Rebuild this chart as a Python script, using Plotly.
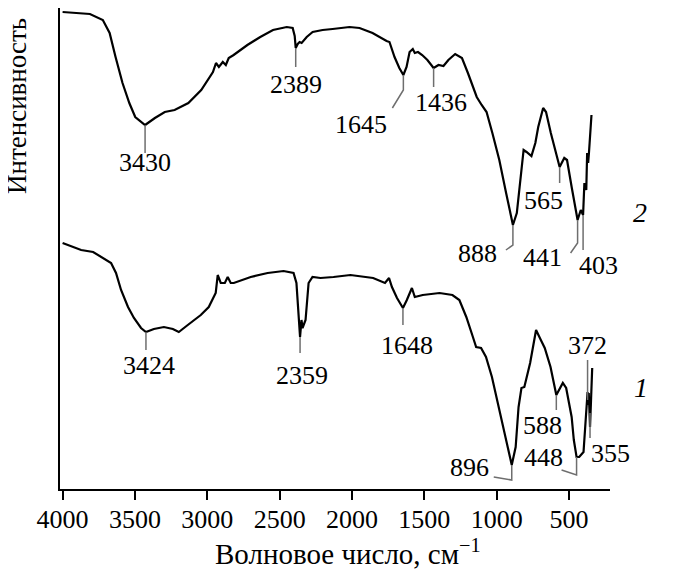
import plotly.graph_objects as go
import numpy as np

# ---------------- data ----------------
wn2 = [4000, 3811, 3722, 3675, 3634, 3586, 3539, 3498, 3430, 3362, 3294, 3226, 3131, 3042,
       2961, 2940, 2920, 2893, 2872, 2852, 2818, 2723, 2634, 2546, 2451, 2410, 2396, 2389,
       2375, 2362, 2348, 2313, 2272, 2203, 2134, 2017, 1948, 1858, 1761, 1741, 1706, 1673,
       1645, 1623, 1602, 1580, 1566, 1544, 1515, 1479, 1436, 1402, 1368, 1334, 1287, 1240,
       1199, 1138, 1104, 1070, 1030, 982, 935, 902, 888, 861, 834, 814, 794, 760, 733, 713,
       679, 659, 626, 592, 565, 533, 514, 482, 450, 441, 419, 403, 394, 381, 375, 368, 362, 345]
int2 = [477, 475, 469, 456, 432, 406, 386, 372, 364, 371, 377, 379, 386, 399,
        417, 426, 422, 427, 424, 431, 434, 444, 452, 459, 462, 461, 453, 441,
        445, 447, 446, 452, 457, 459, 460, 462, 461, 456, 448, 447, 432, 421,
        414, 422, 437, 440, 436, 437, 434, 429, 421, 424, 423, 429, 435, 431,
        416, 392, 384, 377, 356, 329, 296, 272, 264, 276, 316, 339, 337, 333, 346, 362,
        381, 377, 356, 336, 322, 331, 329, 302, 276, 269, 279, 274, 306, 299, 336, 326, 337, 374]

wn1 = [4000, 3872, 3789, 3734, 3665, 3631, 3596, 3548, 3507, 3458, 3424, 3369, 3300, 3238,
       3197, 3135, 3045, 2990, 2942, 2928, 2907, 2879, 2859, 2838, 2817, 2700, 2583, 2473,
       2404, 2384, 2370, 2359, 2349, 2342, 2321, 2300, 2273, 2218, 2128, 2011, 1854, 1772,
       1744, 1724, 1689, 1648, 1621, 1600, 1586, 1566, 1511, 1395, 1306, 1258, 1210, 1169,
       1142, 1108, 1074, 1033, 985, 937, 910, 896, 869, 849, 829, 809, 769, 728, 695, 668,
       628, 595, 588, 543, 520, 482, 467, 448, 430, 400, 385, 372, 368, 364, 360, 355, 348, 340]
int1 = [246, 239, 237, 232, 226, 216, 199, 182, 171, 161, 157, 160, 162, 160,
        157, 164, 174, 182, 196, 214, 206, 206, 212, 206, 206, 212, 216, 218,
        216, 206, 176, 152, 169, 161, 169, 206, 212, 211, 212, 214, 211, 206,
        211, 202, 191, 181, 189, 197, 201, 192, 194, 196, 194, 189, 172, 154,
        142, 141, 132, 112, 82, 52, 32, 24, 42, 82, 101, 102, 126, 159, 149, 141,
        122, 97, 94, 106, 101, 72, 49, 32, 32, 37, 72, 97, 84, 96, 82, 62, 89, 121]

peaks2 = [3430, 2389, 1645, 1436, 888, 565, 441, 403]
peaks1 = [3424, 2359, 1648, 896, 588, 448, 372, 355]

xtick_vals = [4000, 3500, 3000, 2500, 2000, 1500, 1000, 500]

# ---------------- layout geometry / label placement (pixels) ----------------
# page body has an 8px margin, so the figure is drawn 8px smaller and offset
OFF = 8
W, H = 697 - OFF, 569 - OFF
ML, MR, MT, MB = 60 - OFF, 87, 0, 80
X_RANGE = [4018, 217]
Y_RANGE = [0, 481]
plot_w = W - ML - MR
plot_h = H - MT - MB
wn_per_px = (X_RANGE[0] - X_RANGE[1]) / plot_w
i_per_px = (Y_RANGE[1] - Y_RANGE[0]) / plot_h


def px_x(page_x):
    return (page_x - 60) / plot_w


def px_y(page_y):
    return (489 - page_y) / plot_h


def wn_to_paper(w):
    return (X_RANGE[0] - w) / (X_RANGE[0] - X_RANGE[1])


def i_to_paper(v):
    return (v - Y_RANGE[0]) / (Y_RANGE[1] - Y_RANGE[0])


# leader path offsets (dx, dy downwards, px) and text-centre offsets
lead2 = [[(0, 0), (0, 28)], [(0, 0), (0, 19)], [(0, 0), (0, 15), (-11, 33)], [(0, 0), (0, 19)],
         [(0, 0), (0, 20), (-7, 25)], [(0, 0), (0, 16)], [(0, 0), (0, 23), (-7, 33)], [(0, 0), (0, 35)]]
text2 = [(0, 38), (0, 37), (-42, 49), (7, 35), (-35, 28), (-16, 33), (-35, 37), (15, 50)]
lead1 = [[(0, 0), (0, 18)], [(0, 0), (0, 16)], [(0, 0), (0, 17)], [(0, 0), (0, 15), (-18, 12)],
         [(0, 0), (0, 15)], [(0, 0), (0, 18), (-15, 13)], [(0, 8), (0, -32)], [(0, -14), (0, 11)]]
text1 = [(3, 33), (1.5, 38), (4, 37), (-42, 2), (-14, 30), (-33, 0), (0, -47), (20, 26)]

FONT = "Liberation Serif, Times New Roman, serif"
FS = 26

fig = go.Figure()
annotations = []


def add_curve(wn, inten, peaks, leads, texts):
    wn_a = np.array(wn, dtype=float)
    in_a = np.array(inten, dtype=float)
    fig.add_trace(go.Scatter(x=wn, y=inten, mode="lines",
                             line=dict(color="black", width=2.2), hoverinfo="skip",
                             showlegend=False, cliponaxis=False))
    order = np.argsort(wn_a)
    lx, ly = [], []
    for p, path, t in zip(peaks, leads, texts):
        py = float(np.interp(p, wn_a[order], in_a[order]))
        for dx, dy in path:
            lx.append(p - dx * wn_per_px)
            ly.append(py - dy * i_per_px)
        lx.append(None)
        ly.append(None)
        annotations.append(dict(x=wn_to_paper(p - t[0] * wn_per_px),
                                y=i_to_paper(py - t[1] * i_per_px),
                                xref="paper", yref="paper", text=str(p), showarrow=False,
                                xanchor="center", yanchor="middle",
                                font=dict(family=FONT, size=FS, color="black")))
    fig.add_trace(go.Scatter(x=lx, y=ly, mode="lines",
                             line=dict(color="#6e6e6e", width=1.5), hoverinfo="skip",
                             showlegend=False, cliponaxis=False))


add_curve(wn2, int2, peaks2, lead2, text2)
add_curve(wn1, int1, peaks1, lead1, text1)

# curve numbers
annotations.append(dict(x=px_x(640), y=px_y(212), xref="paper", yref="paper",
                        text="<i>2</i>", showarrow=False, xanchor="center", yanchor="middle",
                        font=dict(family=FONT, size=28, color="black")))
annotations.append(dict(x=px_x(641), y=px_y(387), xref="paper", yref="paper",
                        text="<i>1</i>", showarrow=False, xanchor="center", yanchor="middle",
                        font=dict(family=FONT, size=28, color="black")))
# axis titles
annotations.append(dict(x=px_x(348), y=px_y(552), xref="paper", yref="paper",
                        text="Волновое число, см<sup>−1</sup>", showarrow=False,
                        xanchor="center", yanchor="middle",
                        font=dict(family=FONT, size=29, color="black")))
annotations.append(dict(x=px_x(17), y=px_y(106), xref="paper", yref="paper",
                        text="Интенсивность", showarrow=False, textangle=-90,
                        xanchor="center", yanchor="middle",
                        font=dict(family=FONT, size=27, color="black")))

fig.update_layout(
    width=W, height=H,
    margin=dict(l=ML, r=MR, t=MT, b=MB, pad=0, autoexpand=False),
    paper_bgcolor="white", plot_bgcolor="white",
    showlegend=False,
    annotations=annotations,
    xaxis=dict(range=X_RANGE, tickvals=xtick_vals, ticktext=[str(v) for v in xtick_vals],
               ticks="outside", ticklen=9, tickwidth=2, tickcolor="black",
               ticklabelstandoff=-3,
               showline=True, linewidth=2, linecolor="black", showgrid=False, zeroline=False,
               automargin=False,
               tickfont=dict(family=FONT, size=FS, color="black")),
    yaxis=dict(range=Y_RANGE, showticklabels=False, ticks="", showline=True, linewidth=2,
               linecolor="black", showgrid=False, zeroline=False, automargin=False),
)

fig.write_html("out.html")
